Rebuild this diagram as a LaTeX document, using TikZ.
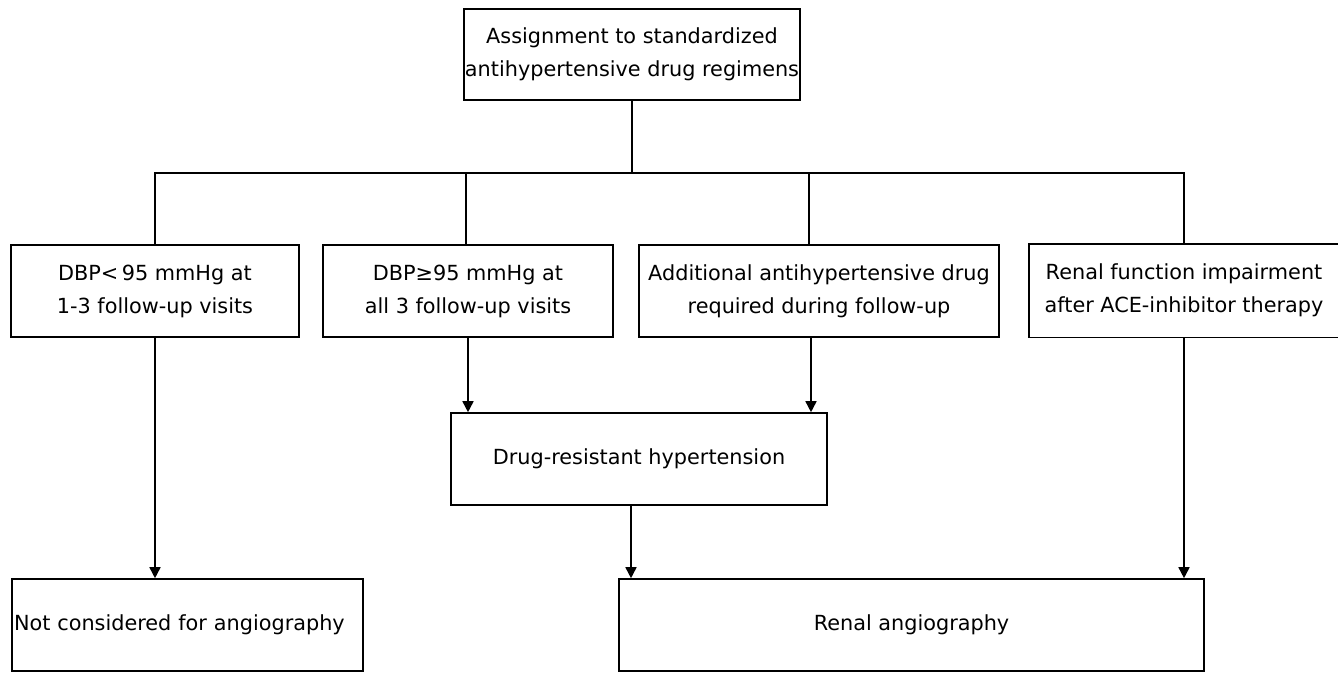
\documentclass[tikz,border=0pt]{standalone}
\usepackage{fontspec}
\setmainfont{DejaVu Sans}
\usetikzlibrary{arrows.meta}
\begin{document}
\begin{tikzpicture}[x=1pt,y=-1pt,
  box/.style={draw, line width=1.6pt, rectangle, inner sep=0pt, align=center,
    font=\fontsize{20.8}{33}\selectfont, minimum height=92pt},
  link/.style={line width=1.6pt},
  arr/.style={line width=1.6pt, -{Triangle[width=11pt,length=11pt]}}]
\useasboundingbox (0,0) rectangle (1338,673);
\node[box, minimum width=336pt, minimum height=91pt] (top) at (632,54.5)
  {Assignment to standardized\\antihypertensive drug regimens};
\node[box, minimum width=288pt] (b1) at (155,291) {DBP<\,95 mmHg at\\1-3 follow-up visits};
\node[box, minimum width=290pt] (b2) at (468,291) {DBP≥95 mmHg at\\all 3 follow-up visits};
\node[box, minimum width=360pt] (b3) at (819,291) {Additional antihypertensive drug\\required during follow-up};
\node[box, draw=none, minimum width=308pt] (b4) at (1184,290.5) {Renal function impairment\\after ACE-inhibitor therapy};
\draw[link] (b4.north east) -- (b4.north west) -- (b4.south west) -- (b4.south east);
\node[box, minimum width=376pt] (drug) at (639,459) {Drug-resistant hypertension};
\node[box, minimum width=351pt, text width=347pt, align=left, inner xsep=2pt] (nc) at (187.5,625) {Not considered for angiography};
\node[box, minimum width=585pt] (ra) at (911.5,625) {Renal angiography};
\coordinate (bus) at (632,173);
\draw[link] (top.south) -- (bus);
\draw[link] (b1.north) |- (b4.north |- bus) -- (b4.north);
\draw[link] ([xshift=-2pt]b2.north) -- ([xshift=-2pt]b2.north |- bus);
\draw[link] ([xshift=-10pt]b3.north) -- ([xshift=-10pt]b3.north |- bus);
\draw[arr] (b1.south) -- (b1.south |- nc.north);
\draw[arr] (b2.south) -- (b2.south |- drug.north);
\draw[arr] ([xshift=-8pt]b3.south) -- ([xshift=-8pt]b3.south |- drug.north);
\draw[arr] ([xshift=-8pt]drug.south) -- ([xshift=-8pt]drug.south |- ra.north);
\draw[arr] (b4.south) -- (b4.south |- ra.north);
\end{tikzpicture}
\end{document}
